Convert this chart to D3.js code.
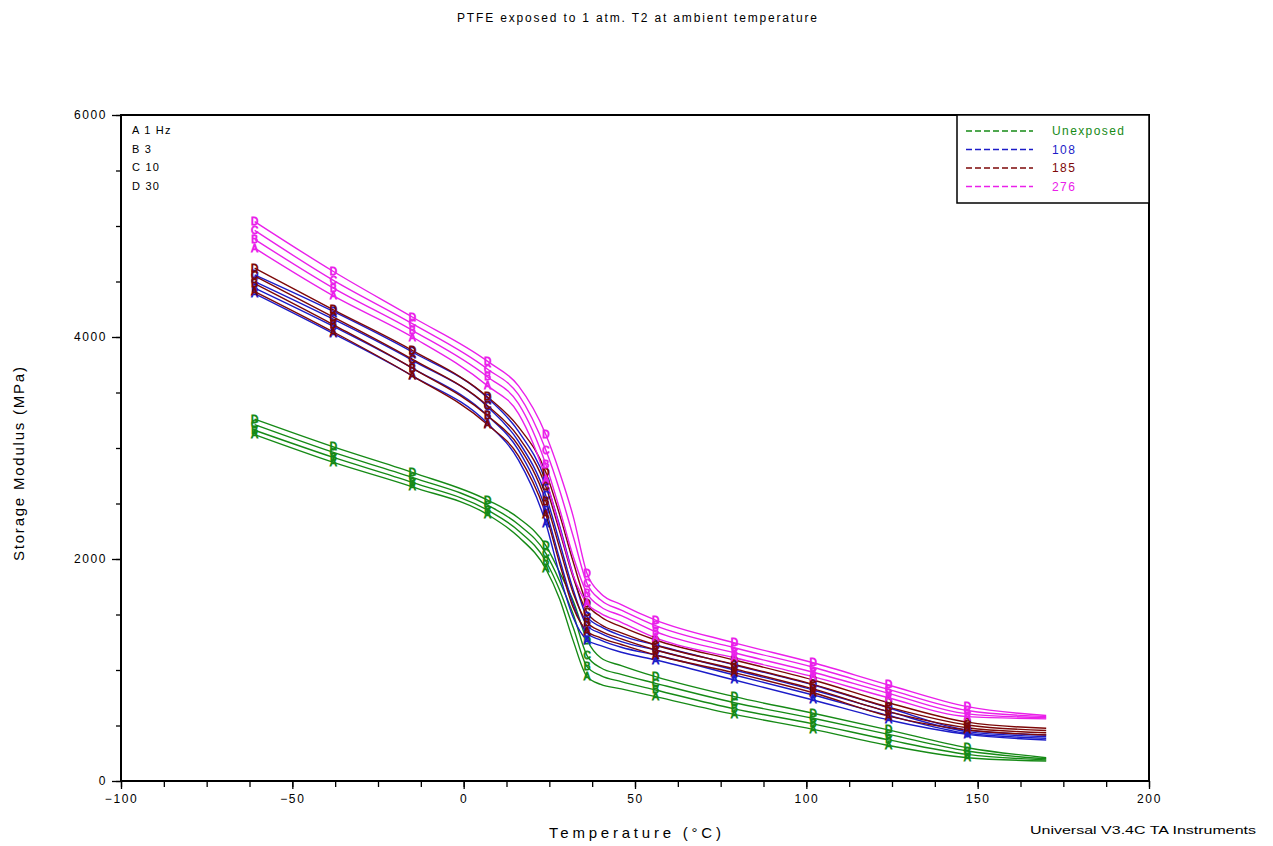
<!DOCTYPE html>
<html>
<head>
<meta charset="utf-8">
<script src="https://cdn.jsdelivr.net/npm/d3@7"></script>
<style>
  body { margin: 0; background: #fff; }
  svg { display: block; }
  text { font-family: "Liberation Sans", Arial, sans-serif; }
</style>
</head>
<body>
<svg id="chart" width="1273" height="846"></svg>
<script>
// Temperature grid (°C) shared by every storage-modulus trace
const temps = [-61, -38, -15, 7, 16, 24, 28, 32, 36, 40, 46, 56, 79, 102, 124, 147, 170];
// Temperatures where the frequency letter is stamped on each trace
const markerTemps = [-61, -38, -15, 7, 24, 36, 56, 79, 102, 124, 147];

const freqCodes = ["A", "B", "C", "D"];
const freqNotes = ["A 1 Hz", "B 3", "C 10", "D 30"];

const sampleNames = ["Unexposed", "108", "185", "276"];
const sampleColors = ["#168a16", "#1c1cc8", "#7d0808", "#ea20ea"];

// Storage modulus (MPa), unexposed PTFE
const unexposedA = [3120, 2870, 2650, 2400, 2200, 1910, 1640, 1260, 940, 870, 830, 760, 600, 465, 320, 210, 180];
const unexposedB = [3160, 2915, 2690, 2440, 2255, 1980, 1720, 1380, 1030, 950, 895, 820, 650, 515, 370, 240, 190];
const unexposedC = [3210, 2960, 2735, 2485, 2310, 2050, 1800, 1500, 1130, 1020, 960, 880, 705, 565, 420, 270, 200];
const unexposedD = [3260, 3010, 2780, 2530, 2370, 2120, 1880, 1620, 1270, 1110, 1040, 940, 760, 610, 460, 300, 210];

// Storage modulus (MPa), sample 108
const s108A = [4390, 4030, 3650, 3220, 2890, 2320, 1860, 1470, 1270, 1220, 1160, 1090, 910, 730, 550, 420, 370];
const s108B = [4440, 4095, 3720, 3290, 2980, 2440, 2000, 1590, 1330, 1270, 1205, 1135, 955, 775, 590, 430, 385];
const s108C = [4500, 4160, 3790, 3370, 3060, 2570, 2150, 1720, 1400, 1330, 1255, 1180, 1000, 820, 625, 445, 400];
const s108D = [4560, 4230, 3865, 3450, 3150, 2700, 2300, 1850, 1480, 1390, 1310, 1225, 1045, 865, 660, 460, 415];

// Storage modulus (MPa), sample 185
const s185A = [4410, 4045, 3650, 3210, 2930, 2400, 1960, 1560, 1350, 1290, 1230, 1135, 975, 795, 585, 460, 415];
const s185B = [4480, 4110, 3720, 3290, 3020, 2520, 2100, 1690, 1430, 1350, 1280, 1180, 1010, 830, 625, 480, 435];
const s185C = [4550, 4180, 3800, 3380, 3100, 2650, 2250, 1830, 1520, 1410, 1335, 1225, 1050, 870, 665, 505, 455];
const s185D = [4620, 4245, 3880, 3460, 3190, 2780, 2400, 1970, 1600, 1480, 1390, 1270, 1090, 910, 705, 530, 475];

// Storage modulus (MPa), sample 276
const s276A = [4800, 4370, 4000, 3560, 3310, 2720, 2280, 1850, 1600, 1510, 1430, 1290, 1110, 940, 750, 580, 560];
const s276B = [4880, 4440, 4060, 3640, 3400, 2850, 2450, 2020, 1690, 1570, 1490, 1345, 1155, 980, 790, 605, 570];
const s276C = [4960, 4510, 4120, 3710, 3480, 2980, 2620, 2200, 1780, 1630, 1540, 1400, 1200, 1025, 825, 635, 580];
const s276D = [5040, 4590, 4180, 3780, 3560, 3120, 2780, 2380, 1870, 1690, 1590, 1450, 1245, 1065, 865, 670, 590];

const groups = [
  [unexposedA, unexposedB, unexposedC, unexposedD],
  [s108A, s108B, s108C, s108D],
  [s185A, s185B, s185C, s185D],
  [s276A, s276B, s276C, s276D]
];

const xMajorTicks = [-100, -50, 0, 50, 100, 150, 200];
const yMajorTicks = [0, 2000, 4000, 6000];

const titleText = "PTFE exposed to 1 atm. T2 at ambient temperature";
const xTitle = "Temperature (°C)";
const yTitle = "Storage Modulus (MPa)";
const footer = "Universal V3.4C TA Instruments";

const svg = d3.select("#chart");
const frame = { left: 121, right: 1149, top: 115, bottom: 781 };

const x = d3.scaleLinear().domain([-100, 200]).range([frame.left, frame.right]);
const y = d3.scaleLinear().domain([0, 6000]).range([frame.bottom, frame.top]);

// Title
svg.append("text")
  .attr("x", 637).attr("y", 22)
  .attr("text-anchor", "middle")
  .attr("font-size", 12)
  .attr("textLength", 360).attr("lengthAdjust", "spacing")
  .text(titleText);

// Axes with major and minor ticks
const xAxisMinor = d3.axisBottom(x).tickValues(d3.range(-100, 200.1, 12.5)).tickSize(6).tickFormat("");
const xAxisMajor = d3.axisBottom(x).tickValues(xMajorTicks).tickSize(8).tickPadding(5).tickFormat(d3.format("d"));
const yAxisMinor = d3.axisLeft(y).tickValues(d3.range(0, 6001, 500)).tickSize(5).tickFormat("");
const yAxisMajor = d3.axisLeft(y).tickValues(yMajorTicks).tickSize(9).tickPadding(5).tickFormat(d3.format("d"));

function styleAxis(g) {
  g.select(".domain").remove();
  g.selectAll(".tick line").attr("stroke", "#000").attr("stroke-width", 1.3);
  g.selectAll(".tick text")
    .attr("font-size", 12)
    .attr("letter-spacing", 1.6)
    .attr("fill", "#000")
    .attr("font-family", "\"Liberation Sans\", Arial, sans-serif");
}

svg.append("g").attr("transform", `translate(0,${frame.bottom})`).call(xAxisMinor).call(styleAxis);
svg.append("g").attr("transform", `translate(0,${frame.bottom})`).call(xAxisMajor).call(styleAxis);
svg.append("g").attr("transform", `translate(${frame.left},0)`).call(yAxisMinor).call(styleAxis);
svg.append("g").attr("transform", `translate(${frame.left},0)`).call(yAxisMajor).call(styleAxis);

// Plot frame
svg.append("rect")
  .attr("x", frame.left).attr("y", frame.top)
  .attr("width", frame.right - frame.left).attr("height", frame.bottom - frame.top)
  .attr("fill", "none").attr("stroke", "#000").attr("stroke-width", 2);

// Axis titles
svg.append("text")
  .attr("x", 635).attr("y", 838)
  .attr("text-anchor", "middle")
  .attr("font-size", 15)
  .attr("textLength", 172).attr("lengthAdjust", "spacing")
  .text(xTitle);

svg.append("text")
  .attr("transform", "translate(24,464) rotate(-90)")
  .attr("text-anchor", "middle")
  .attr("font-size", 15)
  .attr("textLength", 194).attr("lengthAdjust", "spacing")
  .text(yTitle);

svg.append("text")
  .attr("x", 1256).attr("y", 834)
  .attr("text-anchor", "end")
  .attr("font-size", 11)
  .attr("textLength", 226).attr("lengthAdjust", "spacingAndGlyphs")
  .text(footer);

// Frequency key, top left inside the frame
svg.append("g").selectAll("text")
  .data(freqNotes)
  .join("text")
  .attr("x", 132)
  .attr("y", (d, i) => 134 + i * 18.5)
  .attr("font-size", 11)
  .attr("letter-spacing", 1.2)
  .text(d => d);

// Curves
const line = d3.line()
  .x((d, i) => x(temps[i]))
  .y(d => y(d))
  .curve(d3.curveMonotoneX);

const plot = svg.append("g");
groups.forEach((series, gi) => {
  series.forEach((vals, fi) => {
    plot.append("path")
      .attr("d", line(vals))
      .attr("fill", "none")
      .attr("stroke", sampleColors[gi])
      .attr("stroke-width", 1.4);
  });
});

// Frequency letters stamped along each trace
groups.forEach((series, gi) => {
  series.forEach((vals, fi) => {
    const pts = temps.map((t, i) => ({ t, v: vals[i] })).filter(p => markerTemps.includes(p.t));
    plot.append("g").selectAll("text")
      .data(pts)
      .join("text")
      .attr("x", p => x(p.t))
      .attr("y", p => y(p.v) + 3.5)
      .attr("text-anchor", "middle")
      .attr("font-size", 10)
      .attr("fill", "none")
      .attr("stroke", sampleColors[gi])
      .attr("stroke-width", 0.9)
      .text(freqCodes[fi]);
  });
});

// Sample legend, top right
const legend = svg.append("g");
legend.append("rect")
  .attr("x", 957).attr("y", frame.top)
  .attr("width", frame.right - 957).attr("height", 88)
  .attr("fill", "#fff").attr("stroke", "#000").attr("stroke-width", 1.5);
sampleNames.forEach((name, i) => {
  const ly = 131 + i * 18.5;
  legend.append("line")
    .attr("x1", 966).attr("x2", 1033)
    .attr("y1", ly).attr("y2", ly)
    .attr("stroke", sampleColors[i])
    .attr("stroke-width", 1.4)
    .attr("stroke-dasharray", "6,3");
  legend.append("text")
    .attr("x", 1052).attr("y", ly + 4)
    .attr("font-size", 12)
    .attr("letter-spacing", 1.4)
    .attr("fill", sampleColors[i])
    .text(name);
});
</script>
</body>
</html>
